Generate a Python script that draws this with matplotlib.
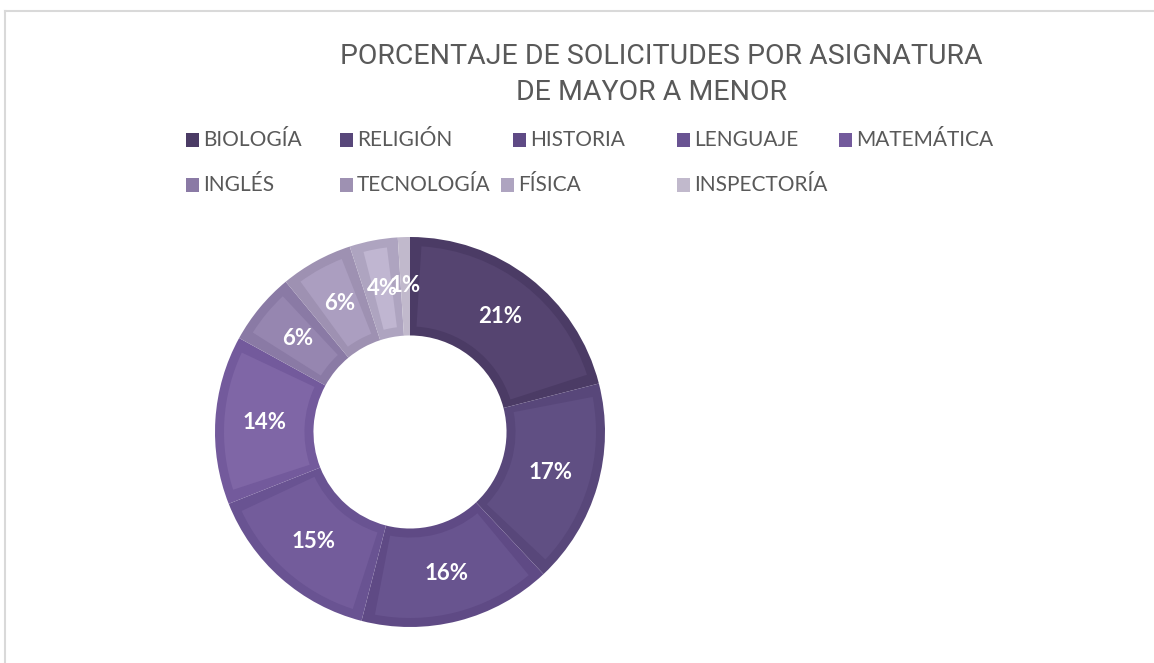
import numpy as np
import matplotlib.pyplot as plt
from matplotlib.patches import Wedge, Rectangle
from matplotlib.lines import Line2D

# datos del grafico
asignaturas = ['BIOLOGÍA', 'RELIGIÓN', 'HISTORIA', 'LENGUAJE', 'MATEMÁTICA',
               'INGLÉS', 'TECNOLOGÍA', 'FÍSICA', 'INSPECTORÍA']
porcentajes = [21, 17, 16, 15, 14, 6, 6, 4, 1]

# colores: borde (igual a leyenda) y relleno interior mas claro
col_borde = ['#4b3b65', '#58477a', '#5f4a85', '#695392', '#735a9c',
             '#8a7aa5', '#9e91b2', '#aea4c0', '#c1b9cc']
col_fill = ['#554470', '#604f83', '#68548f', '#735c9b', '#7f66a6',
            '#9686b0', '#ab9ec0', '#c0b6d1', '#c1b9cc']

W, H = 1154, 663
fig = plt.figure(figsize=(W / 100, H / 100), dpi=100)
fig.patch.set_facecolor('white')

# marco gris del area del grafico
fig.add_artist(Line2D([5 / W, 1], [1 - 10.5 / H, 1 - 10.5 / H], color='#d9d9d9', lw=1.5))
fig.add_artist(Line2D([5 / W, 5 / W], [0, 1 - 10.5 / H], color='#d9d9d9', lw=1.5))

# titulo
fig.text(661 / W, 1 - 57 / H, 'PORCENTAJE DE SOLICITUDES POR ASIGNATURA',
         ha='center', va='center', fontsize=20.5, color='#595959',
         family=['Roboto', 'DejaVu Sans'])
fig.text(652 / W, 1 - 92 / H, 'DE MAYOR A MENOR',
         ha='center', va='center', fontsize=20.5, color='#595959',
         family=['Roboto', 'DejaVu Sans'])

# leyenda manual (posiciones en pixeles)
leg_x = [186, 340, 513, 677, 839, 186, 340, 501, 677]
leg_y = [140, 140, 140, 140, 140, 185, 185, 185, 185]
for nom, c, lx, ly in zip(asignaturas, col_borde, leg_x, leg_y):
    fig.add_artist(Rectangle((lx / W, 1 - (ly + 6.5) / H), 13 / W, 13 / H,
                             transform=fig.transFigure, facecolor=c, edgecolor='none'))
    fig.text((lx + 17) / W, 1 - ly / H, nom, ha='left', va='center',
             fontsize=15, color='#595959', family=['Lato', 'DejaVu Sans'])

# anillo
cx, cy, R = 410, 432, 195
ax = fig.add_axes([(cx - R) / W, 1 - (cy + R) / H, 2 * R / W, 2 * R / H])
wedges, texts, autotexts = ax.pie(
    porcentajes, colors=col_borde, startangle=90, counterclock=False,
    wedgeprops=dict(width=0.505, linewidth=0), autopct='%1.0f%%', pctdistance=0.75,
    textprops=dict(color='white', fontsize=16, fontweight='bold', family=['Lato', 'DejaVu Sans']))
ax.set_xlim(-1, 1)
ax.set_ylim(-1, 1)

# efecto biselado: cuña interior mas clara
ins = 9 / R
for w, cf in zip(wedges, col_fill):
    dth = np.degrees(ins / 0.75)
    t1, t2 = w.theta1 + dth, w.theta2 - dth
    if t2 - t1 > 1:
        ax.add_patch(Wedge((0, 0), 1 - ins, t1, t2, width=0.505 - 2 * ins,
                           facecolor=cf, edgecolor='none', zorder=1.5))
for t in autotexts:
    t.set_zorder(3)

fig.savefig('out.png', dpi=100, facecolor='white')
